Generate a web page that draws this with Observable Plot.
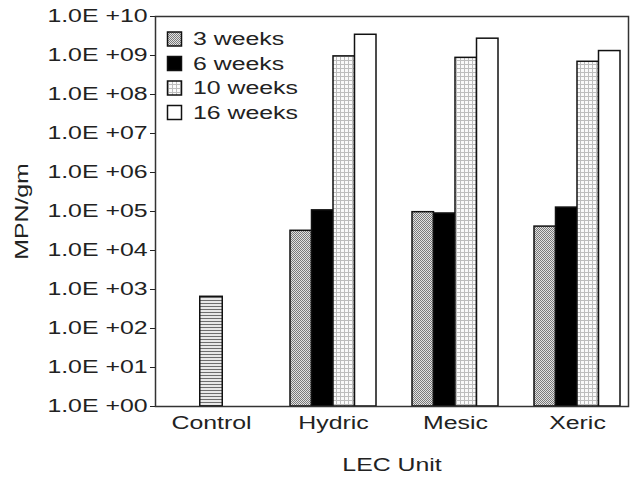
<!DOCTYPE html>
<html>
<head>
<meta charset="utf-8">
<script src="https://cdn.jsdelivr.net/npm/d3@7"></script>
<script src="https://cdn.jsdelivr.net/npm/@observablehq/plot@0.6"></script>
<style>
  html, body { margin: 0; padding: 0; background: #fff; }
  #chart { position: relative; width: 632px; height: 484px; }
</style>
</head>
<body>
<div id="chart"></div>
<script>
// ---- data ----
const units = ["Control", "Hydric", "Mesic", "Xeric"];
const weekLabels = ["3 weeks", "6 weeks", "10 weeks", "16 weeks"];
const week3  = [null, 3.2e4, 9.6e4, 4.1e4];
const week6  = [null, 1.07e5, 8.9e4, 1.26e5];
const week10 = [null, 9.5e8, 8.7e8, 6.9e8];
const week16 = [null, 3.4e9, 2.7e9, 1.3e9];
const controlUnits = ["Control"];
const controlValues = [650];
const yTicks = [1e0, 1e1, 1e2, 1e3, 1e4, 1e5, 1e6, 1e7, 1e8, 1e9, 1e10];
const yTickLabels = ["1.0E +00", "1.0E +01", "1.0E +02", "1.0E +03", "1.0E +04", "1.0E +05",
                     "1.0E +06", "1.0E +07", "1.0E +08", "1.0E +09", "1.0E +10"];

// ---- layout / style ----
const W = 632, H = 484;
const mL = 155, mR = 4, mT = 16, mB = 78;
const xRange = [150, 638];
const step = (xRange[1] - xRange[0]) / units.length;
const barW = 21.5;
const fills = ["url(#p3)", "#000", "url(#p10)", "#fff"];
const STRETCH = 1.38;

const series = [week3, week6, week10, week16];
const barMarks = series.map((vals, j) => {
  const rows = units.map((u, i) => ({unit: u, value: vals[i]})).filter(d => d.value != null);
  const off = (j - 1.5) * barW;
  return Plot.barY(rows, {
    x: "unit", y1: () => 1, y2: "value",
    fill: fills[j], stroke: "#111", strokeWidth: 1.5,
    insetLeft: step / 2 + off - barW / 2,
    insetRight: step / 2 - off - barW / 2
  });
});
const controlRows = controlUnits.map((u, i) => ({unit: u, value: controlValues[i]}));
const controlMark = Plot.barY(controlRows, {
  x: "unit", y1: () => 1, y2: "value",
  fill: "url(#pc)", stroke: "#111", strokeWidth: 1.5,
  insetLeft: step / 2 - barW / 2 - 0.5, insetRight: step / 2 - barW / 2 - 0.5
});

const chart = Plot.plot({
  width: W, height: H,
  marginLeft: mL, marginRight: mR, marginTop: mT, marginBottom: mB,
  style: {fontFamily: "'Liberation Sans', Arial, sans-serif", fontSize: "18px", color: "#222", background: "#fff", overflow: "visible"},
  x: {domain: units, range: xRange, padding: 0, label: "LEC Unit", labelAnchor: "center",
      labelOffset: 64, tickSize: 0, tickPadding: 10, labelArrow: false},
  y: {type: "log", domain: [1, 1e10], ticks: yTicks,
      tickFormat: d => yTickLabels[yTicks.indexOf(d)],
      label: "MPN/gm", labelAnchor: "center", labelOffset: 140, tickSize: 5, tickPadding: 3, labelArrow: false},
  marks: [
    controlMark,
    ...barMarks,
    Plot.frame({stroke: "#333", strokeWidth: 1.5})
  ]
});

document.getElementById("chart").appendChild(chart);

// ---- patterns ----
const svg = d3.select(chart);
const defs = svg.insert("defs", ":first-child");
const p3 = defs.append("pattern").attr("id", "p3").attr("patternUnits", "userSpaceOnUse").attr("width", 2).attr("height", 2);
p3.append("rect").attr("width", 2).attr("height", 2).attr("fill", "#e2e2e2");
p3.append("rect").attr("width", 1).attr("height", 1).attr("fill", "#7a7a7a");
p3.append("rect").attr("x", 1).attr("y", 1).attr("width", 1).attr("height", 1).attr("fill", "#7a7a7a");
const p10 = defs.append("pattern").attr("id", "p10").attr("patternUnits", "userSpaceOnUse").attr("width", 4).attr("height", 4);
p10.append("rect").attr("width", 4).attr("height", 4).attr("fill", "#fafafa");
p10.append("rect").attr("width", 4).attr("height", 1).attr("fill", "#bdbdbd");
p10.append("rect").attr("width", 1).attr("height", 4).attr("fill", "#bdbdbd");
const pc = defs.append("pattern").attr("id", "pc").attr("patternUnits", "userSpaceOnUse").attr("width", 4).attr("height", 3);
pc.append("rect").attr("width", 4).attr("height", 3).attr("fill", "#e8e8e8");
pc.append("rect").attr("width", 4).attr("height", 1).attr("fill", "#6e6e6e");

// ---- legend (inside plot, top-left) ----
const lg = svg.append("g").attr("class", "legend")
  .attr("font-family", "'Liberation Sans', Arial, sans-serif").attr("font-size", 18)
  .attr("fill", "#222").attr("text-anchor", "start");
weekLabels.forEach((lab, j) => {
  const cy = 39 + j * 24.5;
  lg.append("rect").attr("x", 167.5).attr("y", cy - 7).attr("width", 14).attr("height", 14)
    .attr("fill", fills[j]).attr("stroke", "#111").attr("stroke-width", 1.5);
  lg.append("text").attr("x", 193).attr("y", cy).attr("dy", "0.35em").text(lab);
});

// ---- horizontal stretch of the lettering, as in the reference scan ----
chart.querySelectorAll("text").forEach(t => {
  if (!t.textContent) return;
  const len = t.getComputedTextLength();
  if (len > 0) {
    t.setAttribute("textLength", (len * STRETCH).toFixed(1));
    t.setAttribute("lengthAdjust", "spacingAndGlyphs");
  }
});
</script>
</body>
</html>
